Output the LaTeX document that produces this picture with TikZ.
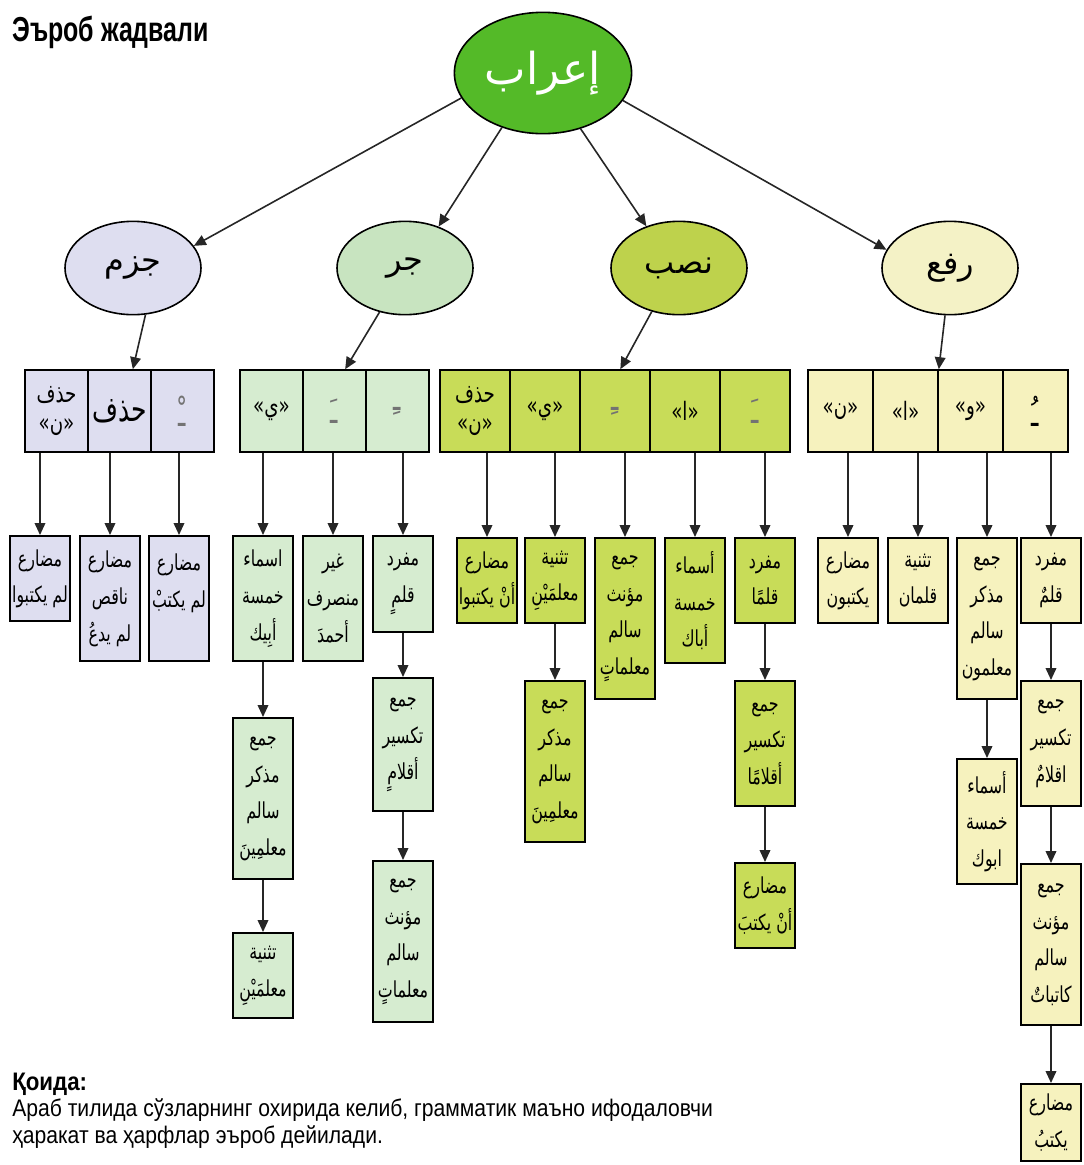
\documentclass[tikz,border=0pt]{standalone}
\usepackage{fontspec}
\setmainfont{Liberation Sans}
\newfontfamily\arabicfont[Script=Arabic]{DejaVu Sans}
\newfontfamily\arabicnarrow[Script=Arabic,FakeStretch=0.72]{DejaVu Sans}
\newfontfamily\narrowfont[FakeStretch=0.88]{Liberation Sans}
\newfontfamily\titlefont[FakeStretch=0.72]{Liberation Sans}
\usetikzlibrary{arrows.meta,shapes.geometric}
\TeXXeTstate=1

\definecolor{ierabgreen}{RGB}{84,186,40}
\definecolor{jazmfill}{RGB}{222,222,240}
\definecolor{jarrfill}{RGB}{200,228,192}
\definecolor{jarrcell}{RGB}{214,236,208}
\definecolor{nasbfill}{RGB}{190,210,76}
\definecolor{nasbcell}{RGB}{200,220,88}
\definecolor{rafafill}{RGB}{244,242,198}
\definecolor{rafacell}{RGB}{246,242,190}

\newcommand{\arline}[1]{\beginR #1\endR}
\newcommand{\arquote}[1]{«#1»}
\newcommand{\harakat}[1]{{\color{black!55}\fontsize{26}{28}\selectfont#1}}

\tikzset{
  arr/.style={line width=1.2pt, draw=black!85, -{Triangle[length=9pt,width=8pt]}},
  caseoval/.style={ellipse, draw, line width=1.2pt, minimum width=102pt, minimum height=70pt, font=\arabicfont\fontsize{24}{27}\selectfont},
  markcell/.style={draw, line width=1.2pt, minimum height=61.5pt, inner sep=0pt, align=center, font=\arabicnarrow\fontsize{19}{22}\selectfont},
  exbox/.style={draw, line width=1.5pt, anchor=north, minimum width=45pt, inner sep=1pt, align=center, font=\arabicnarrow\fontsize{16.5}{27.5}\selectfont},
  tall2/.style={minimum height=64pt},
  tall3/.style={minimum height=94pt},
  tall4/.style={minimum height=121pt}
}

\begin{document}
\begin{tikzpicture}[x=0.75pt,y=-0.75pt]
%\draw[step=100,gray,very thin] (0,0) grid (1084,1165);
\useasboundingbox (0,0) rectangle (1084,1165);

\node[anchor=base west, inner sep=0pt, font=\titlefont\bfseries\fontsize{26}{30}\selectfont] (title) at (12,41) {Эъроб жадвали};

\node[caseoval, fill=ierabgreen, text=white, minimum width=132pt, minimum height=91pt, font=\arabicfont\fontsize{33}{38}\selectfont] (ierab) at (543,73) {إعراب};

\node[caseoval, fill=jazmfill] (jazm) at (133,268) {جزم};
\node[caseoval, fill=jarrfill] (jarr) at (405,268) {جر};
\node[caseoval, fill=nasbfill] (nasb) at (679,268) {نصب};
\node[caseoval, fill=rafafill] (rafa) at (950,268) {رفع};

\draw[arr] (ierab.197) -- (jazm.20);
\draw[arr] (ierab.233) -- (jarr.51);
\draw[arr] (ierab.304) -- (nasb.128);
\draw[arr] (ierab.341) -- (rafa.164);

% jazm
\node[markcell, fill=jazmfill, minimum width=47.25pt] (jzh1) at (56.5,411) {حذف\\\arquote{ن}};
\node[markcell, fill=jazmfill, minimum width=47.25pt, font=\arabicnarrow\fontsize{26}{30}\selectfont] (jzh2) at (119.5,411) {حذف};
\node[markcell, fill=jazmfill, minimum width=47.25pt] (jzh3) at (182.5,411) {\harakat{ـْ}};

\draw[arr] (jazm.285) -- ([xshift=10pt]jzh2.north);

\node[exbox, tall2, fill=jazmfill] (jz1) at (40,535) {مضارع\\\arline{لم يكتبوا}};
\node[exbox, tall3, fill=jazmfill] (jz2) at (110,535) {مضارع\\ناقص\\\arline{لم يدعُ}};
\node[exbox, tall3, fill=jazmfill] (jz3) at (179,535) {مضارع\\\arline{لم يكتبْ}\\\mbox{}};

\draw[arr] (jz1 |- jzh1.south) -- (jz1);
\draw[arr] (jz2 |- jzh2.south) -- (jz2);
\draw[arr] (jz3 |- jzh3.south) -- (jz3);

% jarr
\node[markcell, fill=jarrcell, minimum width=47.25pt] (jrh1) at (271.5,411) {\arquote{ي}};
\node[markcell, fill=jarrcell, minimum width=47.25pt] (jrh2) at (334.5,411) {\harakat{ـَ}};
\node[markcell, fill=jarrcell, minimum width=47.25pt] (jrh3) at (397.5,411) {\harakat{ـِ}};

\draw[arr] (jarr.240) -- ([xshift=8pt]jrh2.north);

\node[exbox, tall3, fill=jarrcell] (jr1) at (263,535) {اسماء\\خمسة\\أبِيك};
\node[exbox, tall4, fill=jarrcell] (jr1b) at (263,717) {جمع\\مذكر\\سالم\\معلمِينَ};
\node[exbox, tall2, fill=jarrcell] (jr1c) at (263,932) {تثنية\\معلمَيْنِ};
\node[exbox, tall3, fill=jarrcell] (jr2) at (333,535) {غير\\منصرف\\أحمدَ};
\node[exbox, tall2, minimum height=72pt, fill=jarrcell] (jr3) at (403,535) {مفرد\\قلمٍ};
\node[exbox, tall3, minimum height=100pt, fill=jarrcell] (jr3b) at (403,677) {جمع\\تكسير\\أقلامٍ};
\node[exbox, tall4, fill=jarrcell] (jr3c) at (403,860) {جمع\\مؤنث\\سالم\\معلماتٍ};

\draw[arr] (jr1 |- jrh1.south) -- (jr1);
\draw[arr] (jr2 |- jrh2.south) -- (jr2);
\draw[arr] (jr3 |- jrh3.south) -- (jr3);
\draw[arr] (jr1) -- (jr1b);
\draw[arr] (jr1b) -- (jr1c);
\draw[arr] (jr3) -- (jr3b);
\draw[arr] (jr3b) -- (jr3c);

% nasb
\node[markcell, fill=nasbcell, minimum width=52.5pt] (nsh1) at (475,411) {حذف\\\arquote{ن}};
\node[markcell, fill=nasbcell, minimum width=52.5pt] (nsh2) at (545,411) {\arquote{ي}};
\node[markcell, fill=nasbcell, minimum width=52.5pt] (nsh3) at (615,411) {\harakat{ـِ}};
\node[markcell, fill=nasbcell, minimum width=52.5pt] (nsh4) at (685,411) {\arquote{ا}};
\node[markcell, fill=nasbcell, minimum width=52.5pt] (nsh5) at (755,411) {\harakat{ـَ}};

\draw[arr] (nasb.238) -- ([xshift=4pt]nsh3.north);

\node[exbox, tall2, fill=nasbcell] (ns1) at (487,537) {مضارع\\\arline{أنْ يكتبوا}};
\node[exbox, tall2, fill=nasbcell] (ns2) at (555,537) {تثنية\\معلمَيْنِ};
\node[exbox, tall4, fill=nasbcell] (ns2b) at (555,680) {جمع\\مذكر\\سالم\\معلمِينَ};
\node[exbox, tall4, fill=nasbcell] (ns3) at (625,537) {جمع\\مؤنث\\سالم\\معلماتٍ};
\node[exbox, tall3, fill=nasbcell] (ns4) at (695,537) {أسماء\\خمسة\\أباك};
\node[exbox, tall2, fill=nasbcell] (ns5) at (765,537) {مفرد\\قلمًا};
\node[exbox, tall3, fill=nasbcell] (ns5b) at (765,680) {جمع\\تكسير\\أقلامًا};
\node[exbox, tall2, fill=nasbcell] (ns5c) at (765,862) {مضارع\\\arline{أنْ يكتبَ}};

\draw[arr] (ns1 |- nsh1.south) -- (ns1);
\draw[arr] (ns2 |- nsh2.south) -- (ns2);
\draw[arr] (ns3 |- nsh3.south) -- (ns3);
\draw[arr] (ns4 |- nsh4.south) -- (ns4);
\draw[arr] (ns5 |- nsh5.south) -- (ns5);
\draw[arr] (ns2) -- (ns2b);
\draw[arr] (ns5) -- (ns5b);
\draw[arr] (ns5b) -- (ns5c);

% rafa
\node[markcell, fill=rafacell, minimum width=48.75pt] (rfh1) at (840.5,411) {\arquote{ن}};
\node[markcell, fill=rafacell, minimum width=48.75pt] (rfh2) at (905.5,411) {\arquote{ا}};
\node[markcell, fill=rafacell, minimum width=48.75pt] (rfh3) at (970.5,411) {\arquote{و}};
\node[markcell, fill=rafacell, minimum width=48.75pt] (rfh4) at (1035.5,411) {{\fontsize{26}{28}\selectfont ـُ}};

\draw[arr] (rafa.264) -- (rfh2.north east);

\node[exbox, tall2, fill=rafacell] (rf1) at (848,537) {مضارع\\يكتبون};
\node[exbox, tall2, fill=rafacell] (rf2) at (918,537) {تثنية\\قلمان};
\node[exbox, tall4, fill=rafacell] (rf3) at (987,537) {جمع\\مذكر\\سالم\\معلمون};
\node[exbox, tall3, fill=rafacell] (rf3b) at (987,758) {أسماء\\خمسة\\ابوك};
\node[exbox, tall2, fill=rafacell] (rf4) at (1051,537) {مفرد\\قلمٌ};
\node[exbox, tall3, fill=rafacell] (rf4b) at (1051,680) {جمع\\تكسير\\اقلامٌ};
\node[exbox, tall4, fill=rafacell] (rf4c) at (1051,863) {جمع\\مؤنث\\سالم\\كاتباتٌ};
\node[exbox, tall2, minimum height=58pt, fill=rafacell] (rf4d) at (1051,1083) {مضارع\\يكتبُ};

\draw[arr] (rf1 |- rfh1.south) -- (rf1);
\draw[arr] (rf2 |- rfh2.south) -- (rf2);
\draw[arr] (rf3 |- rfh3.south) -- (rf3);
\draw[arr] (rf4 |- rfh4.south) -- (rf4);
\draw[arr] (rf3) -- (rf3b);
\draw[arr] (rf4) -- (rf4b);
\draw[arr] (rf4b) -- (rf4c);
\draw[arr] (rf4c) -- (rf4d);

\node[anchor=base west, inner sep=0pt, font=\narrowfont\bfseries\fontsize{19}{22}\selectfont] (rule) at (12,1090) {Қоида:};
\node[anchor=north west, align=left, inner sep=0pt, font=\narrowfont\fontsize{18}{20.5}\selectfont] (ruletext) at (12,1098) {Араб тилида сўзларнинг охирида келиб, грамматик маъно ифодаловчи\\ҳаракат ва ҳарфлар эъроб дейилади.};

\end{tikzpicture}
\end{document}
